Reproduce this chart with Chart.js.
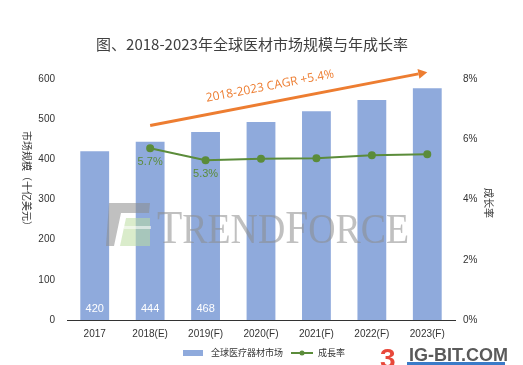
<!DOCTYPE html>
<html>
<head>
<meta charset="utf-8">
<script src="https://cdn.jsdelivr.net/npm/chart.js@4.4.1/dist/chart.umd.min.js"></script>
<style>
  html, body { margin: 0; padding: 0; background: #fff; }
  #wrap { width: 523px; height: 365px; position: relative; }
</style>
</head>
<body>
<div id="wrap"><canvas id="myChart"></canvas></div>
<script>
// ---------------------------------------------------------------- data
var years = ['2017', '2018(E)', '2019(F)', '2020(F)', '2021(F)', '2022(F)', '2023(F)'];
var market_size = [420, 444, 468, 493, 520, 548, 577];
var growth_rate = [null, 0.057, 0.053, 0.0535, 0.0537, 0.0547, 0.055];
var show_bar_label = [true, true, true, false, false, false, false];
var show_rate_label = [false, true, true, false, false, false, false];
var left_ticks = [0, 100, 200, 300, 400, 500, 600];
var right_ticks = [0, 0.02, 0.04, 0.06, 0.08];
// CAGR arrow runs from 2018(E) to 2023(F), in left-axis units
var cagr_from = 484;
var cagr_to = 617;
var cagr_text = '2018-2023 CAGR +5.4%';

var barColor = '#8faadc';
var lineColor = '#5b8c3a';
var orange = '#ed7d31';
var textColor = '#333333';
var tickFont = { family: 'Liberation Sans, Arial, sans-serif', size: 10 };

// ---------------------------------------------------------------- plugins
//watermark over the bars
function drawTrendforce(c) {
    c.save();
    c.globalAlpha = 0.55;
    // logo
    c.fillStyle = '#8c8c8c';
    c.beginPath();
    c.moveTo(109, 203); c.lineTo(150, 203); c.lineTo(149, 213); c.lineTo(121, 213);
    c.lineTo(114, 246); c.lineTo(106, 246); c.closePath(); c.fill();
    c.fillStyle = '#bcdca0';
    c.beginPath();
    c.moveTo(126, 218); c.lineTo(150, 218); c.lineTo(150, 246); c.lineTo(120, 246); c.closePath(); c.fill();
    c.fillStyle = '#ffffff';
    c.fillRect(124, 226, 27, 3);
    // text
    c.fillStyle = '#8c8c8c';
    var parts = [['T', 46], ['REND', 42], ['F', 46], ['ORCE', 42]];
    var total = 0;
    parts.forEach(function (p) {
        c.font = p[1] + 'px "Liberation Serif", serif';
        total += c.measureText(p[0]).width;
    });
    c.translate(157, 243);
    c.scale(252 / total, 1);
    var px = 0;
    parts.forEach(function (p) {
        c.font = p[1] + 'px "Liberation Serif", serif';
        c.fillText(p[0], px, 0);
        px += c.measureText(p[0]).width;
    });
    c.restore();
}

var extras = {
    id: 'extras',
    afterDatasetsDraw: function (chart) {
        var c = chart.ctx;
        var x = chart.scales.x, y = chart.scales.y, y1 = chart.scales.y1;
        drawTrendforce(c);
        c.save();
        // title
        c.fillStyle = '#404040';
        c.font = '15px "Noto Sans CJK SC", sans-serif';
        c.textAlign = 'center';
        c.textBaseline = 'middle';
        c.fillText('图、2018-2023年全球医材市场规模与年成长率', 252, 44);

        // axis titles
        c.font = '10px "Noto Sans CJK SC", sans-serif';
        c.fillStyle = textColor;
        c.save();
        c.translate(27, 181);
        c.rotate(Math.PI / 2);
        c.fillText('市场规模（十亿美元）', 0, 0);
        c.restore();
        c.save();
        c.translate(489, 203);
        c.rotate(Math.PI / 2);
        c.fillText('成长率', 0, 0);
        c.restore();

        // bar value labels
        c.fillStyle = '#ffffff';
        c.font = '11px "Liberation Sans", Arial, sans-serif';
        for (var i = 0; i < years.length; i++) {
            if (show_bar_label[i]) {
                c.fillText(String(market_size[i]), x.getPixelForValue(i), y.getPixelForValue(0) - 11);
            }
        }
        // growth labels
        c.fillStyle = lineColor;
        for (var j = 0; j < years.length; j++) {
            if (show_rate_label[j]) {
                c.fillText((growth_rate[j] * 100).toFixed(1) + '%', x.getPixelForValue(j), y1.getPixelForValue(growth_rate[j]) + 14);
            }
        }

        // cagr arrow
        var x0 = x.getPixelForValue(1), x1 = x.getPixelForValue(6);
        var ya = y.getPixelForValue(cagr_from), yb = y.getPixelForValue(cagr_to);
        var ang = Math.atan2(yb - ya, x1 - x0);
        var ex = x1 - Math.cos(ang) * 9, ey = yb - Math.sin(ang) * 9;
        c.strokeStyle = orange;
        c.lineWidth = 3;
        c.beginPath();
        c.moveTo(x0, ya);
        c.lineTo(ex, ey);
        c.stroke();
        c.fillStyle = orange;
        c.beginPath();
        c.moveTo(x1, yb);
        c.lineTo(ex + Math.sin(ang) * 5, ey - Math.cos(ang) * 5);
        c.lineTo(ex - Math.sin(ang) * 5, ey + Math.cos(ang) * 5);
        c.closePath();
        c.fill();
        c.save();
        var mx = 273, my = ya + (yb - ya) * (mx - x0) / (x1 - x0);
        c.translate(mx + Math.sin(ang) * 16, my - Math.cos(ang) * 16);
        c.rotate(ang);
        c.font = '12px "Open Sans", "Liberation Sans", sans-serif';
        c.fillText(cagr_text, 0, 0);
        c.restore();

        // legend
        c.fillStyle = barColor;
        c.fillRect(183, 350, 20, 6);
        c.fillStyle = textColor;
        c.font = '9px "Noto Sans CJK SC", sans-serif';
        c.textAlign = 'left';
        c.fillText('全球医疗器材市场', 211, 353);
        c.strokeStyle = lineColor;
        c.lineWidth = 2;
        c.beginPath();
        c.moveTo(291, 353); c.lineTo(313, 353); c.stroke();
        c.fillStyle = lineColor;
        c.beginPath(); c.arc(302, 353, 2.5, 0, Math.PI * 2); c.fill();
        c.fillStyle = textColor;
        c.fillText('成長率', 318, 353);

        // ig-bit watermark
        c.fillStyle = '#e8483a';
        c.font = 'bold 28px "Liberation Sans", Arial, sans-serif';
        c.fillText('3', 380, 360);
        c.fillStyle = '#5a5a5a';
        c.font = 'bold 18px "Liberation Sans", Arial, sans-serif';
        c.fillText('IG-BIT.COM', 409, 356);
        c.fillStyle = '#3a7bc8';
        c.fillRect(407, 362, 98, 3);
        c.restore();
    }
};

// ---------------------------------------------------------------- chart
const ctx = document.getElementById('myChart').getContext('2d');
const myChart = new Chart(ctx, {
    type: 'bar',
    data: {
        labels: years,
        datasets: [{
            type: 'line',
            label: '成長率',
            data: growth_rate,
            yAxisID: 'y1',
            borderColor: lineColor,
            backgroundColor: lineColor,
            borderWidth: 2,
            pointRadius: 3,
            pointHoverRadius: 3,
            tension: 0,
            order: 0
        }, {
            label: '全球医疗器材市场',
            data: market_size,
            yAxisID: 'y',
            backgroundColor: barColor,
            categoryPercentage: 1,
            barPercentage: 0.52,
            order: 1
        }]
    },
    options: {
        responsive: true,
        maintainAspectRatio: false,
        animation: false,
        layout: { padding: { top: 79, bottom: 20, left: 0, right: 0 } },
        plugins: {
            legend: { display: false },
            tooltip: { enabled: false }
        },
        scales: {
            x: {
                grid: { display: false, drawTicks: false },
                border: { display: true, color: '#333333', width: 1 },
                ticks: { color: textColor, font: tickFont, padding: 8, maxRotation: 0 },
                afterFit: function (s) { s.height = 25; }
            },
            y: {
                position: 'left',
                min: 0, max: 600,
                grid: { display: false, drawTicks: false },
                border: { display: false },
                afterBuildTicks: function (s) { s.ticks = left_ticks.map(function (v) { return { value: v }; }); },
                ticks: { color: textColor, font: tickFont, padding: 12 },
                afterFit: function (s) { s.width = 67; }
            },
            y1: {
                position: 'right',
                min: 0, max: 0.08,
                grid: { display: false, drawTicks: false },
                border: { display: false },
                afterBuildTicks: function (s) { s.ticks = right_ticks.map(function (v) { return { value: v }; }); },
                ticks: {
                    color: textColor, font: tickFont, padding: 8,
                    callback: function (v) { return Math.round(v * 100) + '%'; }
                },
                afterFit: function (s) { s.width = 68; }
            }
        }
    },
    plugins: [extras]
});
</script>
</body>
</html>
